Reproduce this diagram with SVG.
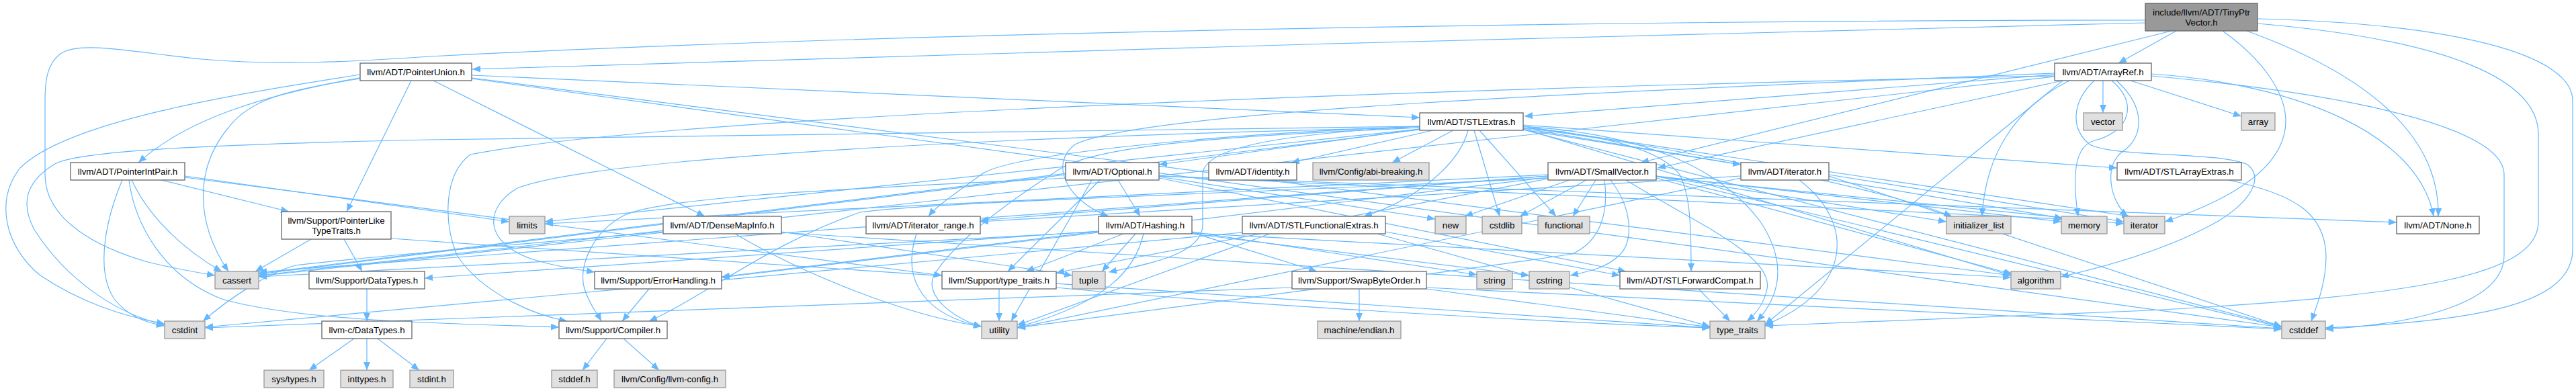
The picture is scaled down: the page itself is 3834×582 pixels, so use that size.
<svg xmlns="http://www.w3.org/2000/svg" width="3834" height="582" viewBox="0 0 3834 582">
<style>
.n rect{fill:#fff;stroke:#666;stroke-width:1.3}
.s rect{fill:#e0e0e0;stroke:#999;stroke-width:1.3}
.r rect{fill:#999;stroke:#666;stroke-width:1.3}
text{font-family:"Liberation Sans",Arial,Helvetica,sans-serif;font-size:13.3px;text-anchor:middle;fill:#000}
#edges path{fill:none;stroke:#63b8ff;stroke-width:1.2;marker-end:url(#a)}
</style>
<defs>
<marker id="a" markerUnits="userSpaceOnUse" markerWidth="12" markerHeight="10" viewBox="0 0 12 10" refX="12" refY="5" orient="auto"><path d="M0,0L12,5L0,10z" fill="#63b8ff"/></marker>
</defs>
<rect width="3834" height="582" fill="#fff"/>
<g id="edges">
<path d="M3239,46L3153,94"/>
<path d="M3344,46C3520,110 3632,200 3629,322"/>
<path d="M3193,34C2600,45 1300,85 703,103"/>
<path d="M3232,46L2442,242"/>
<path d="M3193,30C2500,30 1400,45 640,84C520,92 420,98 300,88C200,78 120,60 90,80C70,95 67,120 67,150L67,260C67,330 150,370 220,390C260,400 290,405 320,410"/>
<path d="M3360,28C3650,35 3829,80 3829,150L3829,371C3829,450 3700,478 3461,488"/>
<path d="M3308,46C3370,90 3402,140 3402,180C3402,240 3340,290 3222,330"/>
<path d="M3360,35C3650,60 3778,120 3778,200L3778,330C3778,410 3600,440 3200,462C2900,475 2700,482 2627,485"/>
<path d="M3058,109C2400,135 1700,165 1600,215C1560,245 1590,300 1650,322"/>
<path d="M3202,110C3420,125 3600,200 3622,322"/>
<path d="M3058,111L2269,173"/>
<path d="M3070,120L2467,250"/>
<path d="M3058,113C2200,130 1000,170 700,230C660,260 660,330 680,380C720,440 800,470 844,478"/>
<path d="M3117,120C3085,150 3080,190 3110,215C3150,235 3300,225 3345,245C3370,265 3350,300 3300,330C3220,375 3120,400 3067,412"/>
<path d="M3171,120L3336,173"/>
<path d="M3058,114L385,410"/>
<path d="M3202,113C3500,140 3727,190 3727,260L3727,380C3727,450 3600,482 3461,490"/>
<path d="M3080,120C3000,160 2955,230 2950,322"/>
<path d="M3150,120C3195,160 3190,205 3160,225C3130,245 3140,300 3167,322"/>
<path d="M3143,120C3180,150 3175,195 3115,210C3085,220 3085,270 3093,322"/>
<path d="M3070,120L2627,483"/>
<path d="M3130,120L3130,168"/>
<path d="M645,120L1049,322"/>
<path d="M540,115C400,140 280,175 206,242"/>
<path d="M702,112L2113,175"/>
<path d="M612,120L516,315"/>
<path d="M702,116L2993,410"/>
<path d="M536,117C420,135 370,150 340,190C290,250 290,330 340,404"/>
<path d="M702,117L3396,487"/>
<path d="M536,111C350,140 100,180 30,250C-10,300 10,370 60,410C120,450 180,470 245,482"/>
<path d="M192,268C200,330 240,410 330,445C450,480 700,482 832,487"/>
<path d="M240,268L430,315"/>
<path d="M275,264L1402,410"/>
<path d="M196,268C220,320 270,370 330,404"/>
<path d="M182,268C160,320 140,400 170,445C190,470 215,480 245,485"/>
<path d="M275,262L758,330"/>
<path d="M512,356L539,404"/>
<path d="M463,356L380,404"/>
<path d="M582,355L2545,488"/>
<path d="M546,430L546,478"/>
<path d="M527,504L460,551"/>
<path d="M546,504L546,551"/>
<path d="M562,504L624,551"/>
<path d="M903,504L867,551"/>
<path d="M928,504L981,551"/>
<path d="M966,430L926,478"/>
<path d="M1487,430L1487,478"/>
<path d="M1572,428C1800,450 2300,480 2545,488"/>
<path d="M987,346L385,411"/>
<path d="M1163,346L3396,489"/>
<path d="M987,345C720,368 520,385 440,395C400,405 340,445 302,478"/>
<path d="M1163,345L1596,410"/>
<path d="M1094,348C1200,410 1350,470 1461,486"/>
<path d="M1364,348C1340,420 1380,470 1461,486"/>
<path d="M1635,344L632,414"/>
<path d="M1635,346L1074,413"/>
<path d="M1774,346L1960,404"/>
<path d="M1672,348L1527,404"/>
<path d="M1774,347L2993,413"/>
<path d="M1635,345L385,412"/>
<path d="M1774,348L2276,410"/>
<path d="M1774,345L2198,409"/>
<path d="M1690,348L1640,404"/>
<path d="M1702,348C1690,400 1650,450 1514,487"/>
<path d="M2123,428L3396,490"/>
<path d="M1923,428L305,488"/>
<path d="M2123,430L2545,487"/>
<path d="M2023,430L2023,478"/>
<path d="M2113,192L1725,245"/>
<path d="M2267,190C2380,200 2470,220 2500,260C2515,290 2517,330 2517,404"/>
<path d="M2185,194C2170,250 2100,300 2030,322"/>
<path d="M2133,194L1922,242"/>
<path d="M2267,193L2591,245"/>
<path d="M2113,188C1800,200 1500,230 1460,260C1420,290 1395,305 1382,322"/>
<path d="M2163,194L2072,242"/>
<path d="M2113,190C1600,200 900,230 770,280C720,310 720,360 790,385C820,395 850,400 885,405"/>
<path d="M2267,186L3151,250"/>
<path d="M2267,192L2993,410"/>
<path d="M2113,193L385,407"/>
<path d="M2267,193L3396,486"/>
<path d="M2113,188C1500,196 900,205 640,208C300,215 110,225 80,245C40,270 30,300 50,340C100,420 180,470 245,483"/>
<path d="M2194,194L2232,322"/>
<path d="M2202,194L2316,322"/>
<path d="M2267,190C2500,220 2800,280 2905,322"/>
<path d="M2267,188L3170,322"/>
<path d="M2113,192L811,330"/>
<path d="M2267,191L3070,325"/>
<path d="M2113,188C1900,200 1790,220 1790,260L1790,335C1790,380 1700,395 1650,405"/>
<path d="M2267,188C2450,200 2560,250 2620,330C2660,390 2650,440 2615,478"/>
<path d="M2113,190C1900,200 1650,210 1580,250C1500,300 1420,360 1390,410C1375,440 1420,475 1461,486"/>
<path d="M1664,268L1697,322"/>
<path d="M1725,262L3567,331"/>
<path d="M1725,265L2420,404"/>
<path d="M1586,265C1300,280 1000,290 930,320C880,345 860,400 870,430C878,455 888,465 895,478"/>
<path d="M1637,268L1500,404"/>
<path d="M1586,260L385,408"/>
<path d="M1725,262L3070,326"/>
<path d="M1725,263L2136,326"/>
<path d="M1625,268L1505,478"/>
<path d="M2304,262L1459,328"/>
<path d="M2304,265C1800,290 1400,300 1280,316C1150,360 1050,440 966,478"/>
<path d="M2304,264L1074,412"/>
<path d="M2304,266L1572,406"/>
<path d="M2465,265L2995,408"/>
<path d="M2304,262L385,405"/>
<path d="M2465,262L3396,487"/>
<path d="M2361,268L2262,322"/>
<path d="M2397,268C2430,310 2432,360 2410,380C2390,400 2360,405 2337,410"/>
<path d="M2375,268L2341,322"/>
<path d="M2465,262L2897,330"/>
<path d="M2465,263L3161,333"/>
<path d="M2304,260L811,333"/>
<path d="M2465,262L3068,330"/>
<path d="M2336,268L2180,322"/>
<path d="M2420,268C2520,330 2640,380 2630,430C2625,455 2610,470 2600,478"/>
<path d="M2388,268C2395,320 2380,360 2340,378C2200,400 1800,450 1514,488"/>
<path d="M2591,262L1459,330"/>
<path d="M2722,262L3396,486"/>
<path d="M2722,260L3161,330"/>
<path d="M2678,268C2760,330 2760,430 2627,484"/>
<path d="M2591,265L1514,488"/>
<path d="M2062,345L2411,410"/>
<path d="M1849,346L305,487"/>
<path d="M2050,348L2545,486"/>
<path d="M1890,348L1514,484"/>
<path d="M2528,430L2575,478"/>
<path d="M3317,268C3420,290 3460,320 3462,380C3462,420 3450,450 3440,478"/>
</g>
<g id="n-tinyptrvector" class="r"><rect x="3193" y="5" width="167" height="41"/><text x="3276.5" y="23.3">include/llvm/ADT/TinyPtr</text><text x="3276.5" y="38.1">Vector.h</text></g>
<g id="n-pointerunion" class="n"><rect x="536" y="94" width="166" height="26"/><text x="619" y="111.7">llvm/ADT/PointerUnion.h</text></g>
<g id="n-arrayref" class="n"><rect x="3058" y="94" width="144" height="26"/><text x="3130" y="111.7">llvm/ADT/ArrayRef.h</text></g>
<g id="n-stlextras" class="n"><rect x="2113" y="168" width="154" height="26"/><text x="2190" y="185.7">llvm/ADT/STLExtras.h</text></g>
<g id="n-vector" class="s"><rect x="3101" y="168" width="58" height="26"/><text x="3130" y="185.7">vector</text></g>
<g id="n-array" class="s"><rect x="3336" y="168" width="50" height="26"/><text x="3361" y="185.7">array</text></g>
<g id="n-pointerintpair" class="n"><rect x="105" y="242" width="170" height="26"/><text x="190" y="259.7">llvm/ADT/PointerIntPair.h</text></g>
<g id="n-optional" class="n"><rect x="1586" y="242" width="139" height="26"/><text x="1655.5" y="259.7">llvm/ADT/Optional.h</text></g>
<g id="n-identity" class="n"><rect x="1799" y="242" width="131" height="26"/><text x="1864.5" y="259.7">llvm/ADT/identity.h</text></g>
<g id="n-abibreaking" class="s"><rect x="1954" y="242" width="173" height="26"/><text x="2040.5" y="259.7">llvm/Config/abi-breaking.h</text></g>
<g id="n-smallvector" class="n"><rect x="2304" y="242" width="161" height="26"/><text x="2384.5" y="259.7">llvm/ADT/SmallVector.h</text></g>
<g id="n-iterator-h" class="n"><rect x="2591" y="242" width="131" height="26"/><text x="2656.5" y="259.7">llvm/ADT/iterator.h</text></g>
<g id="n-stlarrayextras" class="n"><rect x="3151" y="242" width="185" height="26"/><text x="3243.5" y="259.7">llvm/ADT/STLArrayExtras.h</text></g>
<g id="n-pointerliketypetraits" class="n"><rect x="419" y="315" width="163" height="41"/><text x="500.5" y="333.2">llvm/Support/PointerLike</text><text x="500.5" y="348.4">TypeTraits.h</text></g>
<g id="n-limits" class="s"><rect x="758" y="322" width="53" height="26"/><text x="784.5" y="339.7">limits</text></g>
<g id="n-densemapinfo" class="n"><rect x="987" y="322" width="176" height="26"/><text x="1075" y="339.7">llvm/ADT/DenseMapInfo.h</text></g>
<g id="n-iterator-range" class="n"><rect x="1289" y="322" width="170" height="26"/><text x="1374" y="339.7">llvm/ADT/iterator_range.h</text></g>
<g id="n-hashing" class="n"><rect x="1635" y="322" width="139" height="26"/><text x="1704.5" y="339.7">llvm/ADT/Hashing.h</text></g>
<g id="n-stlfunctionalextras" class="n"><rect x="1849" y="322" width="213" height="26"/><text x="1955.5" y="339.7">llvm/ADT/STLFunctionalExtras.h</text></g>
<g id="n-new" class="s"><rect x="2136" y="322" width="46" height="26"/><text x="2159" y="339.7">new</text></g>
<g id="n-cstdlib" class="s"><rect x="2206" y="322" width="59" height="26"/><text x="2235.5" y="339.7">cstdlib</text></g>
<g id="n-functional" class="s"><rect x="2289" y="322" width="77" height="26"/><text x="2327.5" y="339.7">functional</text></g>
<g id="n-initializer-list" class="s"><rect x="2897" y="322" width="96" height="26"/><text x="2945" y="339.7">initializer_list</text></g>
<g id="n-memory" class="s"><rect x="3068" y="322" width="68" height="26"/><text x="3102" y="339.7">memory</text></g>
<g id="n-iterator" class="s"><rect x="3161" y="322" width="61" height="26"/><text x="3191.5" y="339.7">iterator</text></g>
<g id="n-none" class="n"><rect x="3567" y="322" width="123" height="26"/><text x="3628.5" y="339.7">llvm/ADT/None.h</text></g>
<g id="n-cassert" class="s"><rect x="320" y="404" width="65" height="26"/><text x="352.5" y="421.7">cassert</text></g>
<g id="n-datatypes" class="n"><rect x="460" y="404" width="172" height="26"/><text x="546" y="421.7">llvm/Support/DataTypes.h</text></g>
<g id="n-errorhandling" class="n"><rect x="885" y="404" width="189" height="26"/><text x="979.5" y="421.7">llvm/Support/ErrorHandling.h</text></g>
<g id="n-support-type-traits" class="n"><rect x="1402" y="404" width="170" height="26"/><text x="1487" y="421.7">llvm/Support/type_traits.h</text></g>
<g id="n-tuple" class="s"><rect x="1596" y="404" width="49" height="26"/><text x="1620.5" y="421.7">tuple</text></g>
<g id="n-swapbyteorder" class="n"><rect x="1923" y="404" width="200" height="26"/><text x="2023" y="421.7">llvm/Support/SwapByteOrder.h</text></g>
<g id="n-string" class="s"><rect x="2198" y="404" width="53" height="26"/><text x="2224.5" y="421.7">string</text></g>
<g id="n-cstring" class="s"><rect x="2276" y="404" width="60" height="26"/><text x="2306" y="421.7">cstring</text></g>
<g id="n-stlforwardcompat" class="n"><rect x="2411" y="404" width="209" height="26"/><text x="2515.5" y="421.7">llvm/ADT/STLForwardCompat.h</text></g>
<g id="n-algorithm" class="s"><rect x="2993" y="404" width="74" height="26"/><text x="3030" y="421.7">algorithm</text></g>
<g id="n-cstdint" class="s"><rect x="245" y="478" width="60" height="26"/><text x="275" y="495.7">cstdint</text></g>
<g id="n-c-datatypes" class="n"><rect x="479" y="478" width="134" height="26"/><text x="546" y="495.7">llvm-c/DataTypes.h</text></g>
<g id="n-compiler" class="n"><rect x="832" y="478" width="161" height="26"/><text x="912.5" y="495.7">llvm/Support/Compiler.h</text></g>
<g id="n-utility" class="s"><rect x="1461" y="478" width="53" height="26"/><text x="1487.5" y="495.7">utility</text></g>
<g id="n-machine-endian" class="s"><rect x="1961" y="478" width="124" height="26"/><text x="2023" y="495.7">machine/endian.h</text></g>
<g id="n-type-traits" class="s"><rect x="2545" y="478" width="82" height="26"/><text x="2586" y="495.7">type_traits</text></g>
<g id="n-cstddef" class="s"><rect x="3396" y="478" width="65" height="26"/><text x="3428.5" y="495.7">cstddef</text></g>
<g id="n-sys-types" class="s"><rect x="393" y="551" width="89" height="26"/><text x="437.5" y="568.7">sys/types.h</text></g>
<g id="n-inttypes" class="s"><rect x="507" y="551" width="78" height="26"/><text x="546" y="568.7">inttypes.h</text></g>
<g id="n-stdint" class="s"><rect x="610" y="551" width="65" height="26"/><text x="642.5" y="568.7">stdint.h</text></g>
<g id="n-stddef" class="s"><rect x="821" y="551" width="68" height="26"/><text x="855" y="568.7">stddef.h</text></g>
<g id="n-llvm-config" class="s"><rect x="914" y="551" width="166" height="26"/><text x="997" y="568.7">llvm/Config/llvm-config.h</text></g>
</svg>
